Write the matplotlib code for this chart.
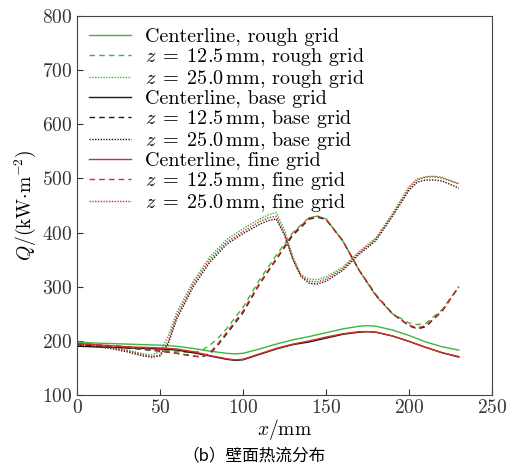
import matplotlib
matplotlib.use("Agg")
import matplotlib.pyplot as plt

# centerline curves
x_center = [0, 10, 20, 30, 40, 50, 60, 70, 80, 90, 95, 100, 110, 120, 130, 140, 150,
            160, 170, 175, 180, 190, 200, 210, 220, 230]
center_rough = [198, 196, 195, 194, 193, 192, 190, 186, 181, 177, 176, 177, 185, 194, 202,
                208, 215, 222, 227, 228, 227, 220, 210, 198, 189, 183]
center_base = [190, 189, 188, 187, 186, 185, 183, 178, 172, 166, 164, 165, 175, 185, 193,
               198, 205, 212, 216, 217, 216, 209, 199, 188, 178, 170]
center_fine = [195, 193, 191, 189, 188, 187, 185, 180, 173, 167, 165, 166, 176, 186, 194,
               200, 207, 213, 217, 217, 216, 209, 199, 188, 178, 171]

# z = 12.5 mm curves
x_z125 = [0, 10, 20, 30, 40, 50, 60, 70, 75, 80, 85, 90, 100, 110, 120, 130, 140, 145,
          150, 160, 170, 180, 190, 200, 205, 210, 220, 230]
z125_rough = [195, 193, 191, 189, 186, 183, 180, 178, 182, 192, 205, 222, 262, 313, 358,
              400, 428, 430, 425, 385, 330, 283, 250, 233, 230, 232, 258, 300]
z125_base = [193, 191, 189, 187, 184, 181, 177, 172, 170, 176, 193, 212, 252, 305, 350,
             395, 425, 428, 424, 385, 330, 285, 250, 228, 222, 226, 255, 300]
z125_fine = [195, 193, 191, 189, 186, 182, 177, 172, 170, 178, 195, 215, 255, 307, 352,
             398, 427, 430, 425, 385, 330, 284, 250, 229, 224, 228, 256, 300]

# z = 25.0 mm curves
x_z250 = [0, 10, 20, 30, 40, 45, 50, 55, 60, 70, 80, 90, 100, 110, 115, 120, 125, 130,
          135, 140, 145, 150, 160, 170, 180, 190, 200, 205, 210, 215, 220, 230]
z250_rough = [196, 193, 189, 183, 176, 174, 180, 210, 252, 310, 355, 387, 407, 425, 432,
              437, 405, 355, 322, 314, 313, 318, 336, 365, 390, 435, 485, 499, 503, 504,
              502, 490]
z250_base = [193, 190, 186, 180, 172, 170, 172, 195, 240, 300, 345, 378, 398, 415, 422,
             425, 395, 350, 318, 306, 305, 310, 330, 360, 385, 430, 478, 493, 497, 497,
             495, 482]
z250_fine = [195, 192, 188, 182, 174, 171, 174, 200, 245, 305, 350, 382, 402, 420, 427,
             430, 398, 352, 320, 310, 309, 314, 333, 363, 388, 432, 482, 497, 502, 503,
             500, 490]

x_ticks = [0, 50, 100, 150, 200, 250]
y_ticks = [100, 200, 300, 400, 500, 600, 700, 800]

plt.rcParams["font.family"] = "cmr10"
plt.rcParams["mathtext.fontset"] = "cm"
plt.rcParams["axes.formatter.use_mathtext"] = True

green = "#3db53d"
black = "#1a1a1a"
red = "#d92b2b"

fig = plt.figure(figsize=(5.08, 4.65), dpi=100)
ax = fig.add_axes([0.1516, 0.1505, 0.817, 0.8155])

grids = [("rough", green, center_rough, z125_rough, z250_rough),
         ("base", black, center_base, z125_base, z250_base),
         ("fine", red, center_fine, z125_fine, z250_fine)]

for name, c, cl, z1, z2 in grids:
    ax.plot(x_center, cl, color=c, lw=1.0, ls="-", label=f"Centerline, {name} grid")
    ax.plot(x_z125, z1, color=c, lw=1.0, ls=(0, (4, 3)),
            label=r"$z\;=\;12.5\,\mathrm{mm}$, " + f"{name} grid")
    ax.plot(x_z250, z2, color=c, lw=1.0, ls=(0, (1, 1)),
            label=r"$z\;=\;25.0\,\mathrm{mm}$, " + f"{name} grid")

ax.set_xlim(0, 250)
ax.set_ylim(100, 800)
ax.set_xticks(x_ticks)
ax.set_yticks(y_ticks)
ax.tick_params(direction="in", length=4, labelsize=14, colors="#333333", pad=3)
for s in ax.spines.values():
    s.set_color("#444444")

ax.set_xlabel(r"$x/\mathrm{mm}$", fontsize=14, labelpad=0)
ax.set_ylabel(r"$Q/(\mathrm{kW{\cdot}m^{-2}})$", fontsize=14, labelpad=3)

ax.legend(loc="upper left", frameon=False, fontsize=14.5, handlelength=2.1,
          labelspacing=0.0, borderaxespad=0.2, handletextpad=0.7,
          bbox_to_anchor=(0.0, 1.0))

fig.text(0.5, 0.02, "（b）壁面热流分布", ha="center", va="center",
         fontsize=12, family=["Noto Sans CJK SC", "DejaVu Sans"])

fig.savefig("out.png", dpi=100)
